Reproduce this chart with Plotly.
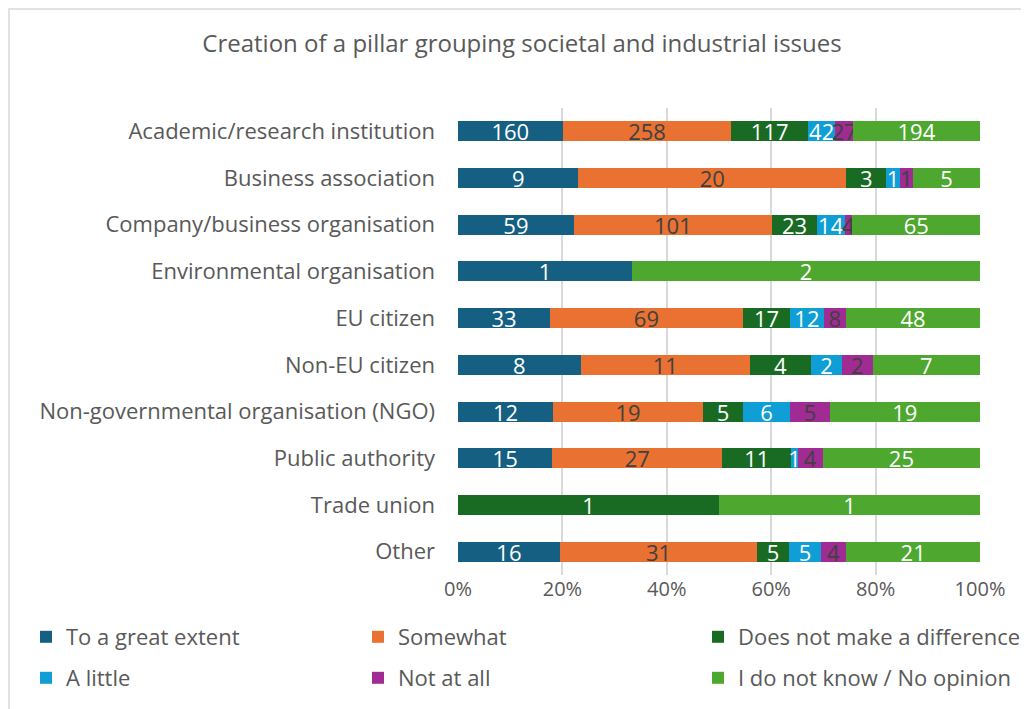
import plotly.graph_objects as go

categories = [
    "Academic/research institution",
    "Business association",
    "Company/business organisation",
    "Environmental organisation",
    "EU citizen",
    "Non-EU citizen",
    "Non-governmental organisation (NGO)",
    "Public authority",
    "Trade union",
    "Other",
]

series_names = [
    "To a great extent",
    "Somewhat",
    "Does not make a difference",
    "A little",
    "Not at all",
    "I do not know / No opinion",
]

great_extent = [160, 9, 59, 1, 33, 8, 12, 15, 0, 16]
somewhat = [258, 20, 101, 0, 69, 11, 19, 27, 0, 31]
no_difference = [117, 3, 23, 0, 17, 4, 5, 11, 1, 5]
a_little = [42, 1, 14, 0, 12, 2, 6, 1, 0, 5]
not_at_all = [27, 1, 4, 0, 8, 2, 5, 4, 0, 4]
no_opinion = [194, 5, 65, 2, 48, 7, 19, 25, 1, 21]

tick_vals = [0, 20, 40, 60, 80, 100]
tick_text = ["0%", "20%", "40%", "60%", "80%", "100%"]

series_values = [great_extent, somewhat, no_difference, a_little, not_at_all, no_opinion]
colors = ["#156082", "#E97132", "#196B24", "#0F9ED5", "#A02B93", "#4EA72E"]
text_colors = ["white", "#404040", "white", "white", "#404040", "white"]

FONT = "Open Sans"
TXT = "#595959"
OFF = 8  # page body margin
W, H = 1029 - OFF, 709 - OFF
L = 458 - OFF
T = 108 - OFF
R = 1029 - 980
B = 709 - 575
pw, ph = W - L - R, H - T - B

def px_x(p):  # p in reference-page pixels
    return (p - OFF - L) / pw

def px_y(p):
    return (H - B - (p - OFF)) / ph

# legend placement in reference-page px: (left, row centre)
legend_pos = [(26, 637), (358, 637), (698, 637), (26, 678), (358, 678), (698, 678)]

fig = go.Figure()
legend_layout = {}
for i, (name, vals, col, tcol) in enumerate(zip(series_names, series_values, colors, text_colors)):
    lid = "legend" if i == 0 else f"legend{i + 1}"
    fig.add_trace(go.Bar(
        y=categories, x=vals, name=name, orientation="h",
        marker=dict(color=col, line=dict(width=0)),
        text=[str(v) if v else "" for v in vals],
        textposition="inside", insidetextanchor="middle", textangle=0,
        constraintext="none",
        textfont=dict(color=tcol, size=22, family=FONT),
        legend=lid, showlegend=True,
        hoverinfo="skip",
    ))
    lx, ly = legend_pos[i]
    legend_layout[lid] = dict(
        orientation="h", x=px_x(lx), xanchor="left", y=px_y(ly), yanchor="middle",
        font=dict(size=22, color=TXT, family=FONT), bgcolor="rgba(0,0,0,0)",
        visible=True,
    )

fig.update_layout(
    width=W, height=H, showlegend=True,
    barmode="stack", barnorm="percent", bargap=0.57,
    plot_bgcolor="white", paper_bgcolor="white",
    margin=dict(l=L, r=R, t=T, b=B, autoexpand=False),
    font=dict(family=FONT, size=20, color=TXT),
    title=dict(text="Creation of a pillar grouping societal and industrial issues",
               x=(522 - OFF) / W, xanchor="center", y=1 - (44 - OFF) / H, yanchor="middle",
               font=dict(size=24, color=TXT, family=FONT)),
    xaxis=dict(range=[0, 100], tickvals=tick_vals, ticktext=tick_text,
               showgrid=True, gridcolor="#D9D9D9", gridwidth=1.5,
               zeroline=False, showline=False, ticks="",
               tickfont=dict(size=20, color=TXT)),
    yaxis=dict(autorange="reversed", showgrid=False, ticks="", ticklen=0,
               tickfont=dict(size=22, color=TXT), ticklabelstandoff=22),
    shapes=[dict(type="rect", xref="paper", yref="paper",
                 x0=px_x(OFF + 1), x1=px_x(1040), y0=px_y(720), y1=px_y(OFF + 1),
                 line=dict(color="#D9D9D9", width=1.5), fillcolor="rgba(0,0,0,0)", layer="below")],
    **legend_layout,
)

fig.write_html("out.html")
